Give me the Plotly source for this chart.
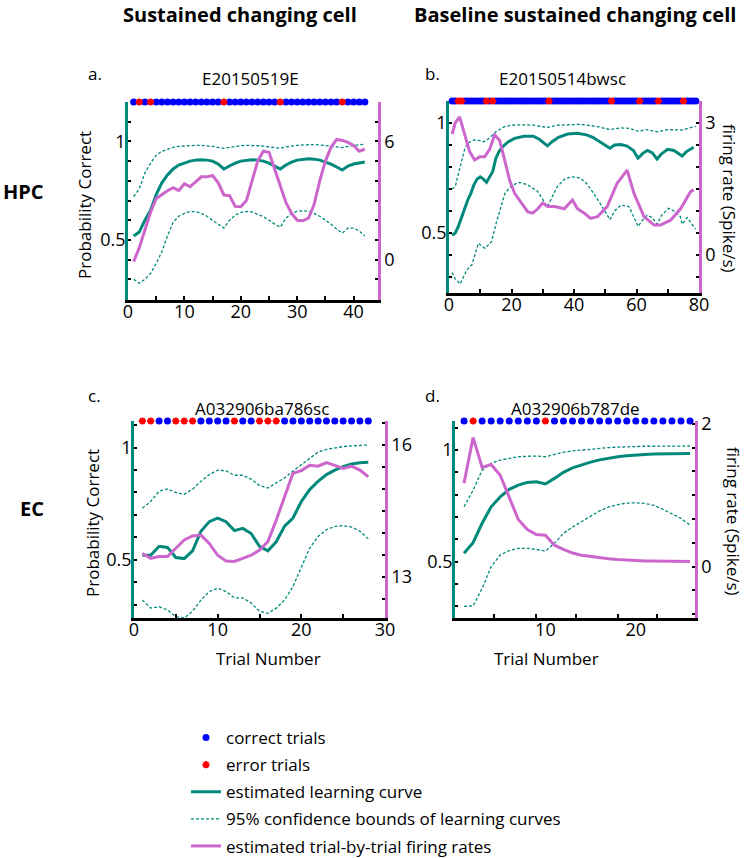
import plotly.graph_objects as go

# ---------------- data ----------------
# Panel a (HPC, sustained changing cell)  E20150519E
a_trials = list(range(1, 43))
a_errors = [2, 4, 17, 27, 38]
a_curve = [0.52, 0.54, 0.60, 0.65, 0.73, 0.79, 0.83, 0.86, 0.88, 0.89, 0.90, 0.905, 0.907, 0.905,
           0.90, 0.885, 0.86, 0.875, 0.89, 0.90, 0.905, 0.907, 0.905, 0.90, 0.89, 0.875, 0.86, 0.88,
           0.895, 0.905, 0.91, 0.912, 0.91, 0.905, 0.895, 0.885, 0.87, 0.855, 0.875, 0.885, 0.89, 0.895]
a_upper = [0.72, 0.76, 0.84, 0.89, 0.93, 0.95, 0.96, 0.97, 0.975, 0.977, 0.98, 0.98, 0.98, 0.978,
           0.975, 0.97, 0.965, 0.97, 0.975, 0.978, 0.98, 0.98, 0.978, 0.976, 0.973, 0.97, 0.965, 0.972,
           0.977, 0.98, 0.982, 0.984, 0.984, 0.982, 0.98, 0.976, 0.972, 0.968, 0.975, 0.98, 0.983, 0.985]
a_lower = [0.30, 0.28, 0.30, 0.33, 0.38, 0.44, 0.52, 0.59, 0.62, 0.635, 0.644, 0.643, 0.635, 0.62,
           0.60, 0.58, 0.56, 0.60, 0.625, 0.64, 0.645, 0.642, 0.632, 0.618, 0.60, 0.58, 0.565, 0.61,
           0.635, 0.645, 0.648, 0.645, 0.635, 0.62, 0.60, 0.58, 0.555, 0.535, 0.56, 0.56, 0.545, 0.52]
a_rate = [-0.1, 0.6, 1.5, 2.4, 3.1, 3.3, 3.5, 3.65, 3.5, 3.85, 3.7, 3.95, 4.2, 4.2,
          4.27, 3.9, 3.28, 3.25, 2.7, 2.68, 3.0, 4.0, 5.0, 5.5, 5.45, 4.6, 3.7, 2.9,
          2.35, 2.0, 1.97, 2.1, 2.8, 4.0, 5.0, 5.7, 6.1, 6.05, 5.95, 5.8, 5.5, 5.6]

# Panel b (HPC, baseline sustained changing cell)  E20150514bwsc
b_trials = list(range(1, 80))
b_errors = [3, 4, 12, 14, 32, 52, 61, 67, 75]
b_curve_t = [1, 2, 3, 4, 5, 6, 7, 8, 9, 10, 11, 12, 13, 14, 15, 16, 17, 19, 21, 24, 27, 29, 31.5, 33,
             35, 38, 41, 44, 46, 48, 50, 51.5, 53, 55, 57, 59, 60.5, 62, 63.5, 65, 66.6, 68, 70, 72,
             74.6, 76, 78.3]
b_curve = [0.49, 0.50, 0.53, 0.57, 0.62, 0.65, 0.68, 0.72, 0.745, 0.755, 0.745, 0.73, 0.755, 0.78,
           0.84, 0.87, 0.89, 0.915, 0.93, 0.94, 0.94, 0.925, 0.896, 0.915, 0.935, 0.95, 0.953, 0.946,
           0.935, 0.918, 0.90, 0.885, 0.90, 0.902, 0.895, 0.875, 0.84, 0.862, 0.875, 0.865, 0.836,
           0.86, 0.88, 0.875, 0.85, 0.87, 0.89]
b_upper_t = [1, 2, 3, 4, 5, 6, 8, 10, 11, 12, 13.4, 15, 17.7, 20, 23, 27, 31.5, 35, 42, 47, 51.5,
             55, 58, 60.5, 63, 66.6, 70, 74.6, 79]
b_upper = [0.70, 0.71, 0.77, 0.83, 0.88, 0.908, 0.923, 0.92, 0.915, 0.92, 0.94, 0.96, 0.983, 0.99,
           0.992, 0.99, 0.98, 0.99, 0.994, 0.985, 0.97, 0.978, 0.975, 0.962, 0.97, 0.96, 0.97, 0.968,
           0.985]
b_lower_t = [1, 2, 3.6, 5, 5.7, 7.3, 9.4, 10.5, 11.5, 13.6, 15.2, 17.9, 20, 22.5, 25, 28.3, 31.5,
             34.6, 37, 39, 42, 44, 46.3, 49, 51.5, 53, 55, 57.6, 59, 60.5, 62, 63.4, 65, 66.6, 68,
             70.3, 72, 74, 74.6, 76.2, 78.9]
b_lower = [0.32, 0.29, 0.268, 0.31, 0.332, 0.355, 0.453, 0.44, 0.43, 0.46, 0.55, 0.68, 0.715, 0.73,
           0.72, 0.69, 0.62, 0.71, 0.745, 0.756, 0.75, 0.725, 0.68, 0.62, 0.56, 0.60, 0.627, 0.62,
           0.58, 0.53, 0.56, 0.58, 0.57, 0.54, 0.58, 0.612, 0.60, 0.575, 0.54, 0.57, 0.517]
b_rate_t = [1, 2, 3.4, 5, 6.6, 8.2, 9.8, 11.4, 13, 14.6, 16.2, 17.8, 19.4, 21, 23.1, 25.2, 26.8,
            28.4, 30, 31.6, 33.8, 36.9, 39.5, 41.1, 43.3, 45.3, 47.5, 50.6, 53.8, 57, 59.2, 62.4,
            65.6, 67.7, 70.9, 74.1, 77.3, 78.3]
b_rate = [2.75, 3.0, 3.14, 2.77, 2.35, 2.16, 2.23, 2.23, 2.4, 2.73, 2.6, 2.16, 1.7, 1.4, 1.18, 0.98,
          0.95, 1.05, 1.18, 1.1, 1.1, 1.05, 1.25, 1.05, 0.95, 0.83, 0.87, 1.1, 1.63, 1.93, 1.4, 0.87,
          0.68, 0.68, 0.79, 1.05, 1.44, 1.48]

# Panel c (EC, sustained changing cell)  A032906ba786sc
c_trials = list(range(1, 29))
c_errors = [1, 2, 5, 6, 7, 12, 15, 16, 17]
c_curve = [0.52, 0.52, 0.56, 0.555, 0.51, 0.505, 0.54, 0.627, 0.67, 0.686, 0.67, 0.63, 0.64, 0.617,
           0.56, 0.54, 0.58, 0.65, 0.686, 0.76, 0.813, 0.85, 0.88, 0.90, 0.915, 0.927, 0.933, 0.935]
c_upper = [0.73, 0.76, 0.806, 0.816, 0.80, 0.792, 0.815, 0.85, 0.88, 0.90, 0.896, 0.877, 0.877, 0.86,
           0.831, 0.82, 0.843, 0.865, 0.896, 0.925, 0.955, 0.98, 0.992, 1.0, 1.005, 1.008, 1.01, 1.012]
c_lower = [0.32, 0.284, 0.29, 0.276, 0.246, 0.24, 0.27, 0.32, 0.358, 0.373, 0.358, 0.33, 0.33, 0.307,
           0.27, 0.261, 0.284, 0.32, 0.38, 0.47, 0.552, 0.604, 0.634, 0.649, 0.652, 0.646, 0.627, 0.593]
c_rate = [13.53, 13.42, 13.46, 13.46, 13.65, 13.84, 13.93, 13.95, 13.76, 13.49, 13.36, 13.35, 13.42,
          13.49, 13.61, 13.8, 14.29, 14.82, 15.36, 15.42, 15.54, 15.52, 15.6, 15.54, 15.47, 15.52,
          15.43, 15.28]

# Panel d (EC, baseline sustained changing cell)  A032906b787de
d_trials = list(range(1, 27))
d_errors = [2, 10]
d_curve = [0.538, 0.585, 0.672, 0.746, 0.79, 0.824, 0.843, 0.855, 0.858, 0.848, 0.873, 0.90, 0.92,
           0.934, 0.946, 0.956, 0.964, 0.97, 0.974, 0.978, 0.98, 0.982, 0.983, 0.984, 0.985, 0.985]
d_upper = [0.746, 0.82, 0.91, 0.94, 0.955, 0.963, 0.97, 0.972, 0.973, 0.97, 0.98, 0.99, 0.996, 1.0,
           1.005, 1.008, 1.011, 1.013, 1.015, 1.016, 1.017, 1.017, 1.018, 1.018, 1.018, 1.018]
d_lower = [0.30, 0.302, 0.38, 0.478, 0.53, 0.55, 0.56, 0.56, 0.555, 0.548, 0.582, 0.627, 0.655, 0.68,
           0.705, 0.728, 0.745, 0.756, 0.762, 0.764, 0.761, 0.752, 0.735, 0.715, 0.694, 0.664]
d_rate = [1.17, 1.81, 1.39, 1.43, 1.28, 0.97, 0.66, 0.52, 0.45, 0.44, 0.30, 0.24, 0.19, 0.16, 0.14,
          0.12, 0.11, 0.10, 0.09, 0.085, 0.08, 0.078, 0.075, 0.073, 0.072, 0.07]

# tick labels
prob_ticks = [0.5, 1]
prob_ticktext = ["0.5", "1"]
a_rate_ticks = [0, 6]
b_rate_ticks = [0, 3]
c_rate_ticks = [13, 16]
d_rate_ticks = [0, 2]
a_xticks = [0, 10, 20, 30, 40]
b_xticks = [0, 20, 40, 60, 80]
c_xticks = [0, 10, 20, 30]
d_xticks = [10, 20]

# ---------------- style ----------------
W, H = 746, 858
TEAL = "#00897b"
MAG = "#cc66cc"
BLUE = "#0000ff"
RED = "#ff0000"
FONT = "Open Sans"
FS = 18


def px_x(p):
    return p / W


def px_y(p):
    return 1 - p / H


fig = go.Figure()

panels = [
    dict(xd=(128, 378), yd=(102, 300), xr=[0, 44.33], yl=[0.195, 1.2], yr=[-2.05, 8.0],
         xt=a_xticks, xminor=5, rt=a_rate_ticks, rminor=1.0,
         trials=a_trials, errors=a_errors,
         curve=(a_trials, a_curve), upper=(a_trials, a_upper), lower=(a_trials, a_lower),
         rate=(a_trials, a_rate)),
    dict(xd=(449, 699), yd=(101, 293), xr=[0, 80], yl=[0.227, 1.1], yr=[-0.865, 3.5],
         xt=b_xticks, xminor=10, rt=b_rate_ticks, rminor=0.5,
         trials=b_trials, errors=b_errors,
         curve=(b_curve_t, b_curve), upper=(b_upper_t, b_upper), lower=(b_lower_t, b_lower),
         rate=(b_rate_t, b_rate)),
    dict(xd=(134, 385), yd=(421, 618), xr=[0, 30], yl=[0.240, 1.119], yr=[12.06, 16.55],
         xt=c_xticks, xminor=5, rt=c_rate_ticks, rminor=0.5,
         trials=c_trials, errors=c_errors,
         curve=(c_trials, c_curve), upper=(c_trials, c_upper), lower=(c_trials, c_lower),
         rate=(c_trials, c_rate)),
    dict(xd=(455, 695), yd=(421, 618), xr=[0, 26.55], yl=[0.248, 1.13], yr=[-0.72, 2.04],
         xt=d_xticks, xminor=None, rt=d_rate_ticks, rminor=1 / 3,
         trials=d_trials, errors=d_errors,
         curve=(d_trials, d_curve), upper=(d_trials, d_upper), lower=(d_trials, d_lower),
         rate=(d_trials, d_rate)),
]

layout = {}
for i, p in enumerate(panels):
    n = i + 1
    xa = "x" if n == 1 else f"x{n}"
    yl_name = "y" if n == 1 else f"y{2 * n - 1}"
    yr_name = f"y{2 * n}"
    xkey = "xaxis" if n == 1 else f"xaxis{n}"
    ylkey = "yaxis" if n == 1 else f"yaxis{2 * n - 1}"
    yrkey = f"yaxis{2 * n}"

    if p["xminor"] is not None:
        xminor = dict(dtick=p["xminor"], tick0=0, ticks="inside", ticklen=4, tickwidth=2,
                      tickcolor="black")
    else:
        xminor = dict(tickvals=[4.28, 8.93, 13.35, 18.0, 22.4], ticks="inside", ticklen=4,
                      tickwidth=2, tickcolor="black")
    layout[xkey] = dict(
        domain=[px_x(p["xd"][0]), px_x(p["xd"][1])], range=p["xr"], anchor=yl_name,
        showline=True, linecolor="black", linewidth=2.5, showgrid=False, zeroline=False,
        tickvals=p["xt"], ticktext=[str(v) for v in p["xt"]],
        ticks="inside" if p["xminor"] is not None else "", ticklen=4, tickwidth=2,
        tickcolor="black", minor=xminor, automargin=False, ticklabelstandoff=-6,
        tickfont=dict(family=FONT, size=FS, color="black"),
    )
    layout[ylkey] = dict(
        domain=[px_y(p["yd"][1]), px_y(p["yd"][0])], range=p["yl"], anchor=xa,
        showline=True, linecolor=TEAL, linewidth=2.5, showgrid=False, zeroline=False,
        tickvals=prob_ticks, ticktext=prob_ticktext, ticks="inside", ticklen=3, tickwidth=2,
        tickcolor="black", automargin=False, ticklabelstandoff=-4,
        minor=dict(dtick=0.1, tick0=0, ticks="inside", ticklen=3, tickwidth=2, tickcolor="black"),
        tickfont=dict(family=FONT, size=FS, color="black"),
    )
    layout[yrkey] = dict(
        overlaying=yl_name, side="right", anchor=xa, range=p["yr"],
        showline=True, linecolor=MAG, linewidth=2.5, showgrid=False, zeroline=False,
        tickvals=p["rt"], ticktext=[str(v) for v in p["rt"]], ticks="inside", ticklen=3,
        tickwidth=2, tickcolor="black", automargin=False,
        minor=dict(dtick=p["rminor"], tick0=p["rt"][0], ticks="inside", ticklen=3, tickwidth=2,
                   tickcolor="black"),
        tickfont=dict(family=FONT, size=FS, color="black"),
    )

    show = (n == 1)
    ytop = p["yl"][1]
    correct = [t for t in p["trials"] if t not in p["errors"]]
    fig.add_trace(go.Scatter(x=p["upper"][0], y=p["upper"][1], xaxis=xa, yaxis=yl_name,
                             mode="lines", line=dict(color=TEAL, width=1.3, dash="3px,2px"),
                             name="95% confidence bounds of learning curves", showlegend=show,
                             legendgroup="g4", legendrank=4))
    fig.add_trace(go.Scatter(x=p["lower"][0], y=p["lower"][1], xaxis=xa, yaxis=yl_name,
                             mode="lines", line=dict(color=TEAL, width=1.3, dash="3px,2px"),
                             showlegend=False, legendgroup="g4"))
    fig.add_trace(go.Scatter(x=p["curve"][0], y=p["curve"][1], xaxis=xa, yaxis=yl_name,
                             mode="lines", line=dict(color=TEAL, width=3),
                             name="estimated learning curve", showlegend=show,
                             legendgroup="g3", legendrank=3))
    fig.add_trace(go.Scatter(x=correct, y=[ytop] * len(correct), xaxis=xa, yaxis=yl_name,
                             mode="markers", cliponaxis=False,
                             marker=dict(color=BLUE, size=7, symbol="circle"),
                             name="correct trials", showlegend=show,
                             legendgroup="g1", legendrank=1))
    fig.add_trace(go.Scatter(x=p["errors"], y=[ytop] * len(p["errors"]), xaxis=xa, yaxis=yl_name,
                             mode="markers", cliponaxis=False,
                             marker=dict(color=RED, size=6, symbol="asterisk",
                                         line=dict(color=RED, width=2)),
                             name="error trials", showlegend=show,
                             legendgroup="g2", legendrank=2))
    fig.add_trace(go.Scatter(x=p["rate"][0], y=p["rate"][1], xaxis=xa, yaxis=yr_name,
                             mode="lines", line=dict(color=MAG, width=3),
                             name="estimated trial-by-trial firing rates", showlegend=show,
                             legendgroup="g5", legendrank=5))

ann = []


def text(s, x, y, size=FS, angle=0, bold=False):
    ann.append(dict(text=f"<b>{s}</b>" if bold else s, x=px_x(x), y=px_y(y), xref="paper",
                    yref="paper", showarrow=False, textangle=angle,
                    font=dict(family=FONT, size=size, color="black"),
                    xanchor="center", yanchor="middle"))


text("Sustained changing cell", 240, 14, 20, bold=True)
text("Baseline sustained changing cell", 575, 14, 20, bold=True)
text("HPC", 23, 192, 20, bold=True)
text("EC", 32, 508, 20, bold=True)
text("a.", 95, 73, 17)
text("b.", 432, 73, 17)
text("c.", 94, 395, 17)
text("d.", 432, 395, 17)
text("E20150519E", 250, 78, 17)
text("E20150514bwsc", 562, 78, 17)
text("A032906ba786sc", 262, 408, 17)
text("A032906b787de", 575, 408, 17)
text("Probability Correct", 85, 205, 17, angle=-90)
text("Probability Correct", 92, 523, 17, angle=-90)
text("firing rate (Spike/s)", 730, 198, 17, angle=90)
text("firing rate (Spike/s)", 734, 521, 17, angle=90)
text("Trial Number", 268, 658, 17)
text("Trial Number", 546, 658, 17)

fig.update_layout(
    width=W, height=H, margin=dict(l=0, r=0, t=0, b=0, autoexpand=False),
    paper_bgcolor="white", plot_bgcolor="white",
    font=dict(family=FONT, size=FS, color="black"),
    annotations=ann,
    showlegend=True,
    legend=dict(x=px_x(186), y=px_y(720), xanchor="left", yanchor="top",
                font=dict(family=FONT, size=17, color="black"),
                bgcolor="rgba(0,0,0,0)", traceorder="grouped", tracegroupgap=2,
                itemwidth=30),
    **layout,
)

fig.write_html("out.html", config={"displayModeBar": False},
               post_script="document.body.style.margin='0px';")
